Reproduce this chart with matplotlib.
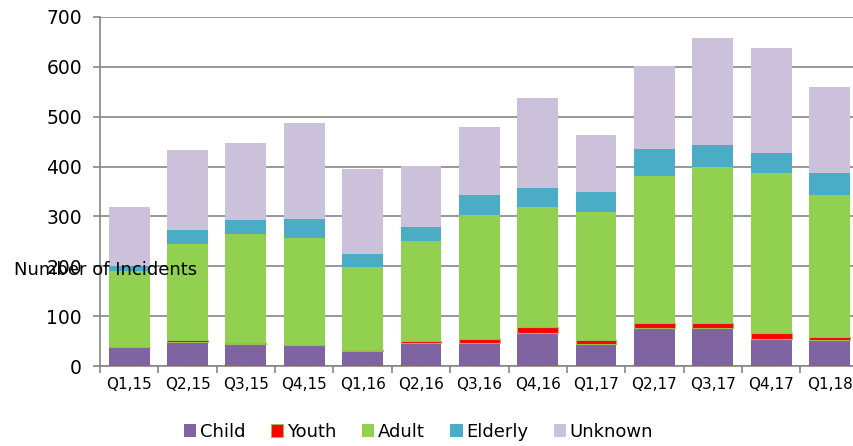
import matplotlib
matplotlib.use("Agg")
import matplotlib.pyplot as plt
import numpy as np

quarters = ["Q1,15", "Q2,15", "Q3,15", "Q4,15", "Q1,16", "Q2,16", "Q3,16",
            "Q4,16", "Q1,17", "Q2,17", "Q3,17", "Q4,17", "Q1,18"]
child   = [38, 49, 44, 42, 31, 46, 47, 67, 45, 77, 77, 54, 52]
youth   = [1, 3, 3, 1, 1, 4, 8, 11, 8, 10, 10, 13, 7]
adult   = [152, 193, 218, 214, 166, 200, 248, 240, 256, 295, 312, 320, 284]
elderly = [9, 27, 28, 37, 27, 29, 39, 39, 39, 53, 45, 40, 45]
unknown = [118, 161, 155, 194, 171, 122, 138, 181, 116, 167, 214, 210, 171]

series = [("Child", child, "#8064A2"), ("Youth", youth, "#FF0000"),
          ("Adult", adult, "#92D050"), ("Elderly", elderly, "#4BACC6"),
          ("Unknown", unknown, "#CCC1DA")]

plt.rcParams['font.family'] = ['DejaVu Sans']
fig = plt.figure(figsize=(8.54, 4.46), dpi=100)
ax = fig.add_axes([100/854, 1-366/446, 758.7/854, 349/446])

x = np.arange(len(quarters))
bottom = np.zeros(len(quarters))
handles = []
for name, vals, col in series:
    ec = "#9BBB59" if name == "Youth" else "none"
    lw = 0.8 if name == "Youth" else 0
    b = ax.bar(x, vals, 0.7, bottom=bottom, color=col, edgecolor=ec,
               linewidth=lw, zorder=3, label=name)
    bottom += np.array(vals)
    handles.append(b)

ax.set_xlim(-0.5, len(quarters) - 0.5)
ax.set_ylim(0, 700)
ax.set_yticks(np.arange(0, 701, 100))
ax.yaxis.grid(True, color="#868686", linewidth=1.2, zorder=0)
ax.set_xticks(x)
ax.set_xticklabels(quarters)
ax.set_xticks(np.arange(-0.5, len(quarters), 1), minor=True)
ax.tick_params(axis='x', which='major', length=0, pad=8, labelsize=11)
ax.tick_params(axis='x', which='minor', length=5, color="#868686", width=1.2)
ax.tick_params(axis='y', length=5, color="#868686", width=1.2, labelsize=13.5, pad=8)
for s in ["top", "right"]:
    ax.spines[s].set_visible(False)
for s in ["left", "bottom"]:
    ax.spines[s].set_color("#868686")
    ax.spines[s].set_linewidth(1.2)

fig.text(14/854, 1-270/446, "Number of Incidents", fontsize=13,
         va="center", ha="left", zorder=10)

fig.legend(handles=handles, labels=[s[0] for s in series], loc="lower center",
           bbox_to_anchor=(0.49, -0.025), ncol=5, frameon=False, fontsize=13,
           handlelength=0.7, handleheight=0.7, handletextpad=0.2,
           columnspacing=1.4)

fig.savefig("out.png", dpi=100)
